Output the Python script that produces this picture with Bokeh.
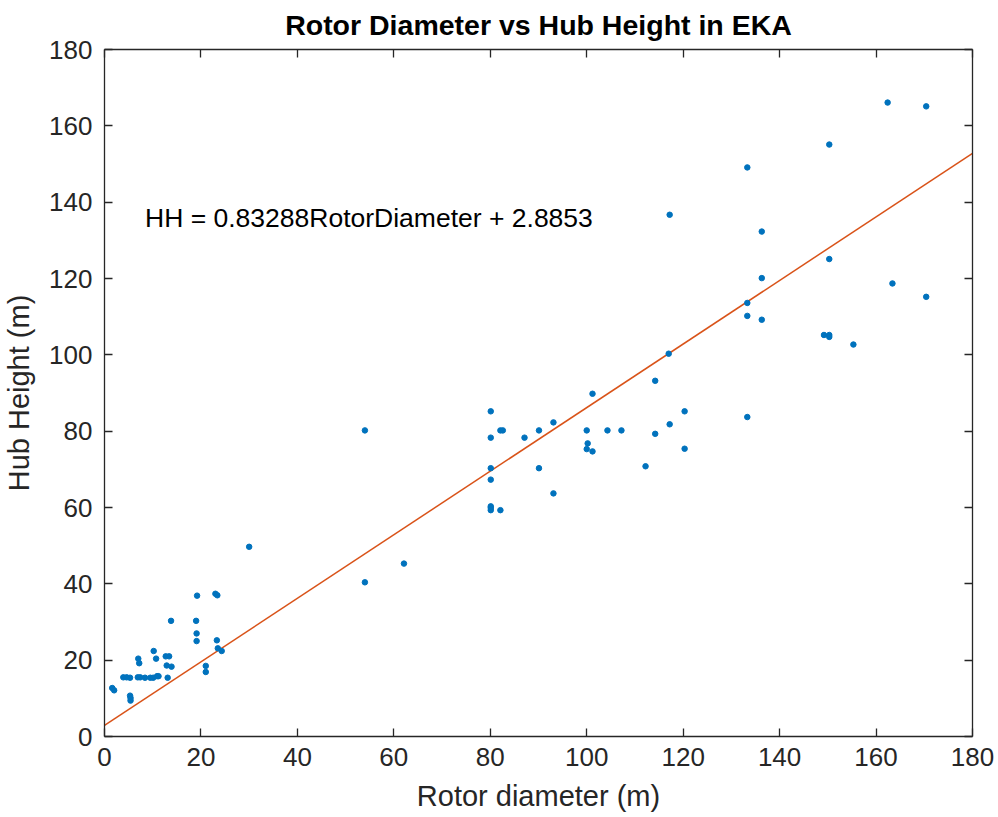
from bokeh.plotting import figure
from bokeh.models import Range1d, LinearAxis, FixedTicker, Label, CustomLabelingPolicy
from bokeh.embed import file_html
from bokeh.resources import INLINE

# ---- data ----
rotor_diameter = [
    1.6, 2.0, 3.9, 4.6, 5.3, 5.3, 5.4, 5.4, 6.9, 7.4, 7.0, 7.2,
    8.4, 9.5, 10.1, 10.9, 11.2, 10.2, 10.7, 12.7, 13.4, 12.9, 13.9, 13.1,
    13.8, 19.0, 19.1, 19.1, 19.2, 21.0, 21.0, 23.0, 23.4, 23.3, 23.5, 24.3,
    30.0, 54.0, 54.0, 62.1,
    80.1, 80.1, 80.1, 80.1, 80.1, 80.1, 80.1, 82.1, 82.1, 82.6,
    87.1, 90.1, 90.1, 93.1, 93.1,
    100.0, 100.2, 100.0, 101.2, 101.2, 104.3, 107.2,
    112.2, 114.2, 114.2, 117.2, 117.0, 117.2, 120.3, 120.3,
    133.3, 133.3, 133.3, 133.3, 136.3, 136.3, 136.3,
    149.2, 150.3, 150.3, 150.3, 150.3, 155.3,
    162.4, 163.4, 170.4, 170.4,
]
hub_height = [
    12.7, 12.1, 15.5, 15.5, 15.4, 10.7, 10.1, 9.4, 15.5, 15.5, 20.4, 19.2,
    15.4, 15.4, 15.4, 15.8, 15.8, 22.4, 20.4, 21.0, 21.0, 18.6, 18.3, 15.4,
    30.3, 30.3, 27.0, 25.0, 36.9, 18.5, 16.9, 37.4, 37.0, 25.2, 23.1, 22.4,
    49.7, 80.2, 40.4, 45.3,
    85.2, 78.3, 70.3, 67.3, 60.3, 59.9, 59.3, 59.3, 80.2, 80.2,
    78.3, 80.2, 70.3, 82.3, 63.7,
    80.2, 76.8, 75.3, 74.7, 89.8, 80.2, 80.2,
    70.8, 79.3, 93.2, 81.8, 100.3, 136.7, 85.2, 75.4,
    83.7, 110.2, 113.6, 149.1, 109.2, 120.1, 132.3,
    105.2, 105.2, 104.7, 125.1, 155.1, 102.7,
    166.1, 118.7, 165.1, 115.2,
]
fit_slope = 0.83288
fit_intercept = 2.8853
fit_x = [0, 180]
fit_y = [fit_slope * v + fit_intercept for v in fit_x]
tick_values = [0, 20, 40, 60, 80, 100, 120, 140, 160, 180]

title_text = "Rotor Diameter vs Hub Height in EKA"
x_label = "Rotor diameter (m)"
y_label = "Hub Height (m)"
equation_text = "HH = 0.83288RotorDiameter + 2.8853"

FONT = "Liberation Sans"
AX_COLOR = "#262626"

p = figure(
    width=998, height=817,
    output_backend="svg", toolbar_location=None,
    x_range=Range1d(0, 180), y_range=Range1d(0, 180),
    min_border_left=104, min_border_right=26,
    min_border_top=49, min_border_bottom=81,
    title=title_text,
)
p.background_fill_color = "white"
p.border_fill_color = "white"
p.outline_line_color = None
p.xgrid.visible = False
p.ygrid.visible = False

p.title.text_font = FONT
p.title.text_font_size = "28.5px"
p.title.text_font_style = "bold"
p.title.text_color = "black"
p.title.align = "center"


def style_axis(ax, show_labels=True):
    ax.ticker = FixedTicker(ticks=tick_values)
    ax.axis_line_color = AX_COLOR
    ax.axis_line_width = 1.3
    ax.major_tick_line_color = AX_COLOR
    ax.major_tick_line_width = 1.3
    ax.major_tick_in = 8
    ax.major_tick_out = 0
    ax.minor_tick_line_color = None
    ax.major_label_text_font = FONT
    ax.major_label_text_color = AX_COLOR
    ax.axis_label_text_font = FONT
    ax.axis_label_text_color = AX_COLOR
    ax.axis_label_text_font_style = "normal"
    if show_labels:
        ax.major_label_text_font_size = "26px"
        ax.axis_label_text_font_size = "29px"
    else:
        # box-only axis (top/right): ticks but no labels
        ax.major_label_text_font_size = "2px"
        ax.major_label_standoff = 0
        ax.major_label_policy = CustomLabelingPolicy(code="return new Set()")


p.xaxis.axis_label = x_label
p.yaxis.axis_label = y_label
style_axis(p.xaxis[0])
style_axis(p.yaxis[0])
p.xaxis.major_label_standoff = 11
p.xaxis.axis_label_standoff = 11
p.yaxis.major_label_standoff = 12
p.yaxis.axis_label_standoff = 11

top_axis = LinearAxis()
right_axis = LinearAxis()
style_axis(top_axis, show_labels=False)
style_axis(right_axis, show_labels=False)
p.add_layout(top_axis, "above")
p.add_layout(right_axis, "right")

p.line(fit_x, fit_y, line_color="#D95319", line_width=1.5)
p.scatter(rotor_diameter, hub_height, size=5.5, fill_color="#0072BD",
          line_color="#0072BD")

p.add_layout(Label(x=8.4, y=135.8, text=equation_text, text_font=FONT,
                   text_font_size="26.5px", text_color="black",
                   text_baseline="alphabetic"))

open("out.html", "w").write(file_html(p, INLINE))
